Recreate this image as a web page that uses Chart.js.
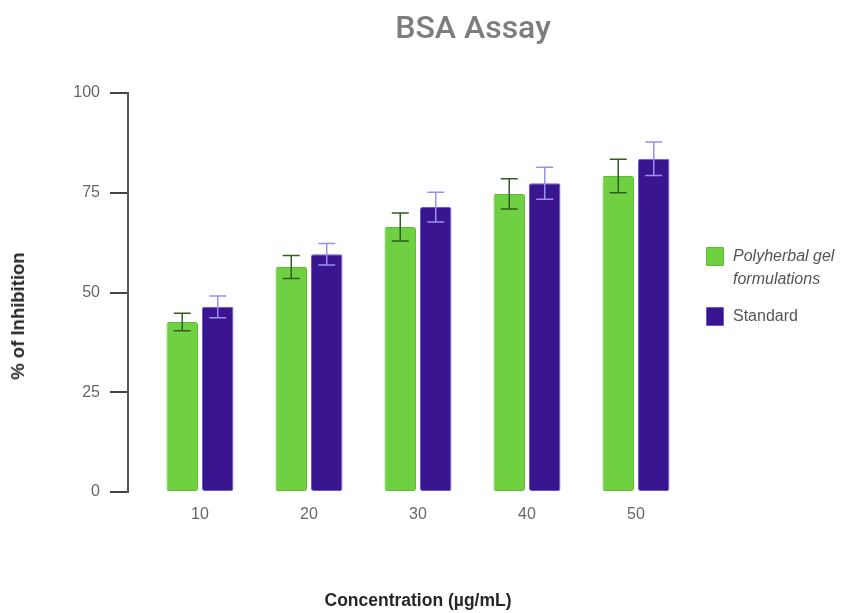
<!DOCTYPE html>
<html>
<head>
<meta charset="utf-8">
<script src="https://cdn.jsdelivr.net/npm/chart.js@4.4.1/dist/chart.umd.min.js"></script>
<style>
  html, body { margin: 0; padding: 0; background: #ffffff; }
  #wrap { position: relative; width: 852px; height: 613px; overflow: hidden; }
  #c { position: absolute; left: 0; top: 0; }
  #title { position: absolute; left: 373px; width: 200px; top: 8px; text-align: center;
           font-family: Roboto, "Liberation Sans", sans-serif; font-weight: 500; font-size: 32px; color: #7d7d7d; line-height: 38px; }
  #ytitle { position: absolute; left: 18px; top: 316px; transform: translate(-50%, -50%) rotate(-90deg);
            white-space: nowrap; font-family: "Liberation Sans", Arial, sans-serif; font-weight: bold; font-size: 18.5px; color: #262626; }
  #legend { position: absolute; left: 706px; top: 245px; width: 146px; font-family: "Liberation Sans", Arial, sans-serif; font-size: 16px; color: #555; }
  .item { position: relative; height: 62px; }
  .sw { position: absolute; left: 0; width: 16px; height: 17px; border-radius: 1px; }
  .lbl { position: absolute; left: 27px; line-height: 23px; white-space: nowrap; }
</style>
</head>
<body>
<div id="wrap">
  <canvas id="c" width="852" height="613"></canvas>
  <div id="title">BSA Assay</div>
  <div id="ytitle">% of Inhibition</div>
  <div id="legend"></div>
</div>
<script>
// ---- data ----
const categories = ['10', '20', '30', '40', '50'];
const seriesNames = ['Polyherbal gel formulations', 'Standard'];
const polyherbal = [42.6, 56.4, 66.4, 74.7, 79.2];
const polyherbalErr = [2.2, 2.9, 3.5, 3.8, 4.2];
const standard = [46.4, 59.6, 71.4, 77.4, 83.5];
const standardErr = [2.7, 2.7, 3.7, 4.0, 4.2];
const yTicks = [0, 25, 50, 75, 100];

const colors = {
  green: '#6fd142', greenBorder: '#5dbb35', greenErr: '#2f5d22',
  purple: '#3a1590', purpleBorder: '#6b58d0', purpleErr: '#9b8ff0'
};

// legend (HTML, real text)
const legend = document.getElementById('legend');
legend.innerHTML =
  '<div class="item"><div class="sw" style="top:2px;background:' + colors.green + ';border:1px solid ' + colors.greenBorder + '"></div>' +
  '<div class="lbl" style="top:-1px;font-style:italic">Polyherbal gel<br>formulations</div></div>' +
  '<div class="item"><div class="sw" style="top:0px;background:' + colors.purple + ';border:1px solid ' + colors.purpleBorder + '"></div>' +
  '<div class="lbl" style="top:-3px">Standard</div></div>';

const errorBars = {
  id: 'errorBars',
  afterDatasetsDraw(chart) {
    const ctx = chart.ctx;
    const yScale = chart.scales.y;
    chart.data.datasets.forEach((ds, di) => {
      const meta = chart.getDatasetMeta(di);
      ctx.save();
      ctx.strokeStyle = ds.errColor;
      ctx.lineWidth = 1.5;
      meta.data.forEach((el, i) => {
        const v = ds.data[i], e = ds.errors[i];
        const yt = yScale.getPixelForValue(v + e);
        const yb = yScale.getPixelForValue(v - e);
        const x = el.x;
        const half = 8.5;
        ctx.beginPath();
        ctx.moveTo(x, yt); ctx.lineTo(x, yb);
        ctx.moveTo(x - half, yt); ctx.lineTo(x + half, yt);
        ctx.moveTo(x - half, yb); ctx.lineTo(x + half, yb);
        ctx.stroke();
      });
      ctx.restore();
    });
  }
};

new Chart(document.getElementById('c'), {
  type: 'bar',
  data: {
    labels: categories,
    datasets: [
      { label: seriesNames[0], data: polyherbal, errors: polyherbalErr, errColor: colors.greenErr,
        backgroundColor: colors.green, borderColor: colors.greenBorder, borderWidth: 1, borderRadius: 2, borderSkipped: false },
      { label: seriesNames[1], data: standard, errors: standardErr, errColor: colors.purpleErr,
        backgroundColor: colors.purple, borderColor: colors.purpleBorder, borderWidth: 1, borderRadius: 2, borderSkipped: false }
    ]
  },
  options: {
    responsive: false,
    devicePixelRatio: 1,
    animation: false,
    categoryPercentage: 0.651,
    barPercentage: 0.887,
    layout: { padding: { left: 0, right: 161.5, top: 93, bottom: 0 } },
    plugins: { legend: { display: false }, title: { display: false }, tooltip: { enabled: false } },
    scales: {
      x: {
        type: 'category',
        grid: { display: false, drawTicks: false },
        border: { display: false },
        ticks: { color: '#666', padding: 13, font: { family: '"Liberation Sans", Arial, sans-serif', size: 16 } },
        title: { display: true, text: 'Concentration (µg/mL)', color: '#262626', padding: { top: 0, bottom: 1 },
                 font: { family: '"Liberation Sans", Arial, sans-serif', size: 17.5, weight: 'bold' } },
        afterFit(scale) { scale.height = 121; }
      },
      y: {
        type: 'linear',
        position: 'left',
        weight: 1,
        min: 0, max: 100,
        afterBuildTicks(scale) { scale.ticks = yTicks.map(v => ({ value: v })); },
        grid: { display: true, drawOnChartArea: false, drawTicks: true, tickLength: 18, color: '#444', lineWidth: 2 },
        border: { display: true, color: '#555', width: 2 },
        ticks: { color: '#666', padding: 10, font: { family: '"Liberation Sans", Arial, sans-serif', size: 16 } },
        afterFit(scale) { scale.width = 128; }
      },
      spacer: {
        type: 'linear',
        position: 'left',
        weight: 0,
        display: true,
        grid: { display: false, drawTicks: false },
        border: { display: false },
        ticks: { display: false },
        afterFit(scale) { scale.width = 17.5; }
      }
    }
  },
  plugins: [errorBars]
});
</script>
</body>
</html>
